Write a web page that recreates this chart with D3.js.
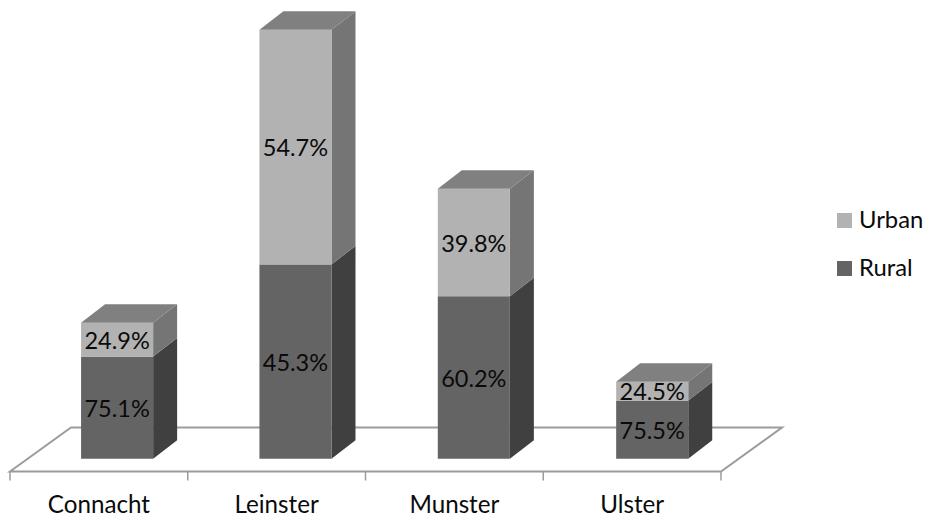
<!DOCTYPE html>
<html>
<head>
<meta charset="utf-8">
<script src="https://d3js.org/d3.v7.min.js"></script>
<style>
html, body { margin: 0; padding: 0; background: #fff; }
svg { display: block; }
text { font-family: Lato, "Open Sans", sans-serif; font-size: 23.5px; fill: #0a0a0a; }
text.cat { font-size: 24.2px; }
text.leg { font-size: 23.8px; }
</style>
</head>
<body>
<div id="chart"></div>
<script>
var provinces = ['Connacht', 'Leinster', 'Munster', 'Ulster'];
var ruralShare = [75.1, 45.3, 60.2, 75.5];
var urbanShare = [24.9, 54.7, 39.8, 24.5];
// bar totals have no axis in the original, so these are relative sizes read off the picture
var totals = [136, 429, 270, 77];

var seriesNames = ['Urban', 'Rural'];

var width = 926, height = 518;

// floor of the 3d plot
var floorLeft = 10, floorRight = 721, floorY = 471.5;
var floorDx = 61, floorDy = 44;
var barDx = 24, barDy = 18.5;
var offsetY = (floorDy - barDy) / 2;
var baseY = floorY - offsetY;

var colors = {
    Urban: { front: '#b2b2b2', side: '#757575', top: '#808080' },
    Rural: { front: '#646464', side: '#404040', top: '#808080' }
};

var svg = d3.select('#chart').append('svg')
    .attr('width', width)
    .attr('height', height);

// labels follow the floor, bars sit a little further in
var x = d3.scaleBand()
    .domain(provinces)
    .range([floorLeft, floorRight]);

var xBar = d3.scaleBand()
    .domain(provinces)
    .range([28, 741.3])
    .paddingInner(0.596)
    .paddingOuter(0.2975);

var y = d3.scaleLinear()
    .domain([0, d3.max(totals)])
    .range([baseY, baseY - 429]);

var line = d3.line();

// floor
svg.append('path')
    .attr('d', line([
        [floorLeft, floorY],
        [floorLeft + floorDx, floorY - floorDy],
        [floorRight + floorDx, floorY - floorDy],
        [floorRight, floorY]
    ]) + 'Z')
    .attr('fill', 'none')
    .attr('stroke', '#9c9c9c')
    .attr('stroke-width', 2);

// axis ticks and labels
var tickStep = (floorRight - floorLeft) / provinces.length;
d3.range(provinces.length + 1).forEach(function(i) {
    svg.append('line')
        .attr('x1', floorLeft + i * tickStep)
        .attr('x2', floorLeft + i * tickStep)
        .attr('y1', floorY)
        .attr('y2', floorY + 9)
        .attr('stroke', '#9c9c9c')
        .attr('stroke-width', 1.5);
});

svg.selectAll('.cat')
    .data(provinces)
    .enter().append('text')
    .attr('class', 'cat')
    .attr('x', function(d) { return x(d) + x.bandwidth() / 2; })
    .attr('y', 513)
    .attr('text-anchor', 'middle')
    .text(function(d) { return d; });

// bars, rural at the bottom and urban on top
provinces.forEach(function(p, i) {
    var x0 = xBar(p);
    var x1 = x0 + xBar.bandwidth();
    var ruralTop = y(totals[i] * ruralShare[i] / 100);
    var urbanTop = y(totals[i] * (ruralShare[i] + urbanShare[i]) / 100);
    var g = svg.append('g');

    function drawSegment(name, y0, y1) {
        var c = colors[name];
        g.append('path')
            .attr('d', line([[x1, y0], [x1 + barDx, y0 - barDy], [x1 + barDx, y1 - barDy], [x1, y1]]) + 'Z')
            .attr('fill', c.side);
        g.append('rect')
            .attr('x', x0)
            .attr('y', y1)
            .attr('width', x1 - x0)
            .attr('height', y0 - y1)
            .attr('fill', c.front);
    }

    function drawLabel(y0, y1, share) {
        g.append('text')
            .attr('class', 'pct')
            .attr('x', (x0 + x1) / 2)
            .attr('y', (y0 + y1) / 2)
            .attr('dy', '0.39em')
            .attr('text-anchor', 'middle')
            .text(share.toFixed(1) + '%');
    }

    drawSegment('Rural', baseY, ruralTop);
    drawSegment('Urban', ruralTop, urbanTop);

    g.append('path')
        .attr('d', line([[x0, urbanTop], [x0 + barDx, urbanTop - barDy], [x1 + barDx, urbanTop - barDy], [x1, urbanTop]]) + 'Z')
        .attr('fill', colors.Urban.top);

    drawLabel(baseY, ruralTop, ruralShare[i]);
    drawLabel(ruralTop, urbanTop, urbanShare[i]);
});

// legend
var legend = svg.selectAll('.legend')
    .data(seriesNames)
    .enter().append('g')
    .attr('class', 'legend')
    .attr('transform', function(d, i) { return 'translate(837,' + (213 + i * 48) + ')'; });

legend.append('rect')
    .attr('width', 15)
    .attr('height', 15)
    .attr('fill', function(d) { return colors[d].front; });

legend.append('text')
    .attr('class', 'leg')
    .attr('x', 22)
    .attr('y', 15)
    .text(function(d) { return d; });
</script>
</body>
</html>
